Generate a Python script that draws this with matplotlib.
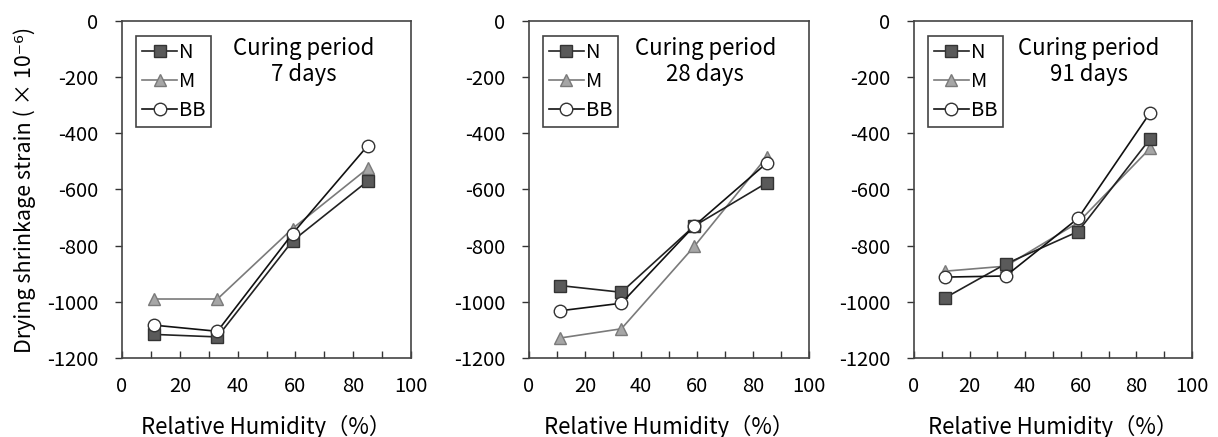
import matplotlib
matplotlib.use('Agg')
import matplotlib.pyplot as plt
from matplotlib.ticker import MultipleLocator

plt.rcParams['font.family'] = ['Noto Sans CJK JP', 'DejaVu Sans']
plt.rcParams['axes.unicode_minus'] = False

# relative humidity (%)
rh = [11, 33, 59, 85]

# drying shrinkage strain (x10^-6), one list per curing period
n_7 = [-1116, -1125, -783, -570]
m_7 = [-990, -990, -739, -525]
bb_7 = [-1083, -1105, -757, -444]

n_28 = [-942, -966, -730, -576]
m_28 = [-1129, -1096, -803, -483]
bb_28 = [-1032, -1005, -730, -505]

n_91 = [-987, -865, -750, -419]
m_91 = [-891, -873, -718, -453]
bb_91 = [-912, -908, -703, -326]

periods = ['7 days', '28 days', '91 days']
panels = [(n_7, m_7, bb_7), (n_28, m_28, bb_28), (n_91, m_91, bb_91)]

fig = plt.figure(figsize=(12.18, 4.37), dpi=100)
boxes = [[0.1002, 0.1808, 0.2373, 0.7712],
         [0.4343, 0.1808, 0.2299, 0.7712],
         [0.7504, 0.1808, 0.2282, 0.7712]]

for i in range(3):
    ax = fig.add_axes(boxes[i])
    n, m, bb = panels[i]
    ax.plot(rh, n, color='#222222', lw=1.2, marker='s', ms=8,
            mfc='#5a5a5a', mec='#333333', label='N', zorder=3)
    ax.plot(rh, m, color='#7a7a7a', lw=1.2, marker='^', ms=9,
            mfc='#a6a6a6', mec='#7a7a7a', label='M', zorder=2)
    ax.plot(rh, bb, color='#111111', lw=1.2, marker='o', ms=9,
            mfc='white', mec='#333333', label='BB', zorder=4)

    ax.set_xlim(0, 100)
    ax.set_ylim(-1200, 0)
    ax.xaxis.set_major_locator(MultipleLocator(20))
    ax.xaxis.set_minor_locator(MultipleLocator(10))
    ax.yaxis.set_major_locator(MultipleLocator(200))
    ax.tick_params(axis='x', which='both', direction='in', length=5,
                   width=1, pad=13, labelsize=14.5, colors='#333333',
                   labelcolor='black')
    ax.tick_params(axis='y', direction='out', length=5, width=1, pad=12,
                   labelsize=14.5, colors='#333333', labelcolor='black')
    for s in ax.spines.values():
        s.set_color('#444444')
        s.set_linewidth(1.2)

    ax.set_xlabel('Relative Humidity（%）', fontsize=16, labelpad=13)
    if i == 0:
        ax.set_ylabel('Drying shrinkage strain ( × 10⁻⁶)', fontsize=15.5,
                      labelpad=8)

    leg = ax.legend(loc='upper left', fontsize=14.5, handlelength=1.7,
                    handletextpad=0.1, borderpad=0.3, labelspacing=0.4,
                    fancybox=False, edgecolor='#444444', framealpha=1,
                    bbox_to_anchor=(0.015, 0.985))
    leg.get_frame().set_linewidth(1.2)

    ax.text(0.63, 0.88, 'Curing period\n' + periods[i], transform=ax.transAxes,
            ha='center', va='center', fontsize=16, linespacing=1.2)

fig.savefig('out.png', dpi=100)
